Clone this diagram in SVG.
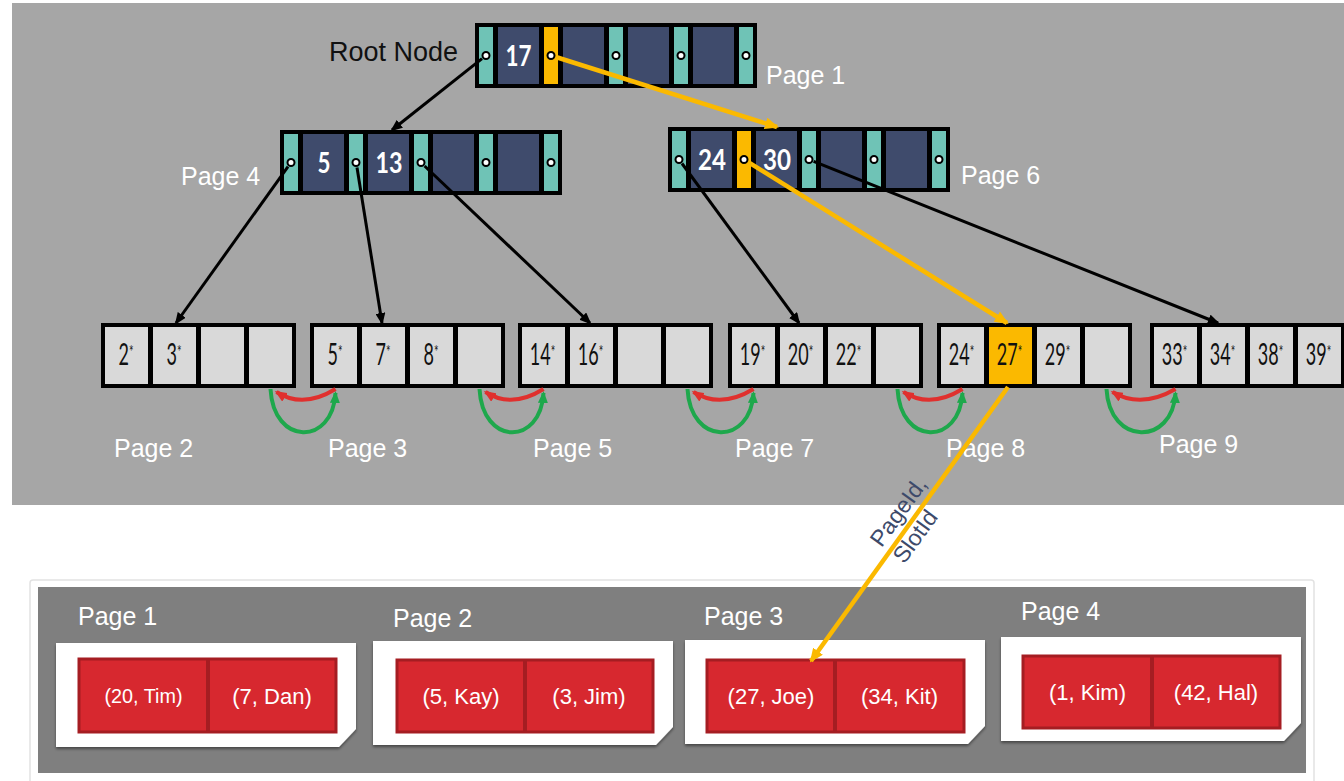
<svg xmlns="http://www.w3.org/2000/svg" width="1344" height="781" viewBox="0 0 1344 781">
  <defs>
    <style>
      .frame { fill: #000; }
      .ptr { fill: #6fc3b6; }
      .key { fill: #3f4b6c; }
      .sel { fill: #fbb900; }
      .dot { fill: #fff; stroke: #000; stroke-width: 2; }
      .keytxt { font-family: Lato, "Open Sans", "DejaVu Sans", sans-serif; font-weight: bold; font-size: 28px; fill: #fff; text-anchor: middle; }
      .cell { fill: #d9d9d9; }
      .leaftxt { font-family: Lato, "Open Sans", "DejaVu Sans", sans-serif; font-size: 30px; fill: #111; text-anchor: middle; }
      .star { font-size: 18px; }
      .lbl { font-family: "Liberation Sans", Arial, sans-serif; font-size: 25px; fill: #fff; }
      .rootlbl { font-family: "Liberation Sans", Arial, sans-serif; font-size: 27px; fill: #111; }
      .conn { fill: none; stroke: #000; stroke-width: 3; marker-end: url(#ah-black); }
      .yconn { fill: none; stroke: #fbb900; stroke-width: 4.5; marker-end: url(#ah-yellow); }
      .prev { fill: none; stroke: #e0302e; stroke-width: 4; marker-end: url(#ah-red); }
      .next { fill: none; stroke: #1ea84c; stroke-width: 4; marker-end: url(#ah-green); }
      .card { fill: #fff; filter: url(#shadow); }
      .rec { fill: #d7282f; stroke: #a51d22; stroke-width: 3; }
      .recdiv { stroke: #a51d22; stroke-width: 4; }
      .rectxt { font-family: "Liberation Sans", Arial, sans-serif; font-size: 22px; fill: #fff; text-anchor: middle; }
      .rid { font-family: "Liberation Sans", Arial, sans-serif; font-size: 23px; fill: #3d4a6a; }
    </style>
    <marker id="ah-black" viewBox="0 0 12 10" refX="10" refY="5" markerWidth="12" markerHeight="10" markerUnits="userSpaceOnUse" orient="auto">
      <path d="M0,0 L12,5 L0,10 z" fill="#000"/>
    </marker>
    <marker id="ah-yellow" viewBox="0 0 14 12" refX="12" refY="6" markerWidth="14" markerHeight="12" markerUnits="userSpaceOnUse" orient="auto">
      <path d="M0,0 L14,6 L0,12 z" fill="#fbb900"/>
    </marker>
    <marker id="ah-red" viewBox="0 0 12 10" refX="10" refY="5" markerWidth="12" markerHeight="10" markerUnits="userSpaceOnUse" orient="auto">
      <path d="M0,0 L12,5 L0,10 z" fill="#e0302e"/>
    </marker>
    <marker id="ah-green" viewBox="0 0 12 10" refX="10" refY="5" markerWidth="12" markerHeight="10" markerUnits="userSpaceOnUse" orient="auto">
      <path d="M0,0 L12,5 L0,10 z" fill="#1ea84c"/>
    </marker>
    <filter id="shadow" x="-5%" y="-10%" width="110%" height="130%">
      <feDropShadow dx="0" dy="2" stdDeviation="1.5" flood-color="#000" flood-opacity="0.45"/>
    </filter>
  </defs>

  <rect x="0" y="0" width="1344" height="781" fill="#fff"/>
  <!-- index area -->
  <rect x="12" y="3" width="1332" height="502" fill="#a6a6a6"/>

  <!-- inner nodes -->
  <g id="node-page1">
    <rect class="frame" x="475" y="23" width="282" height="65"/>
    <rect class="ptr" x="479" y="27" width="14" height="57"/>
    <rect class="key" x="498" y="27" width="41" height="57"/>
    <rect class="sel" x="544" y="27" width="14" height="57"/>
    <rect class="key" x="563" y="27" width="41" height="57"/>
    <rect class="ptr" x="609" y="27" width="14" height="57"/>
    <rect class="key" x="628" y="27" width="41" height="57"/>
    <rect class="ptr" x="674" y="27" width="14" height="57"/>
    <rect class="key" x="693" y="27" width="41" height="57"/>
    <rect class="ptr" x="739" y="27" width="14" height="57"/>
    <circle class="dot" cx="486" cy="55.5" r="3.5"/>
    <circle class="dot" cx="551" cy="55.5" r="3.5"/>
    <circle class="dot" cx="616" cy="55.5" r="3.5"/>
    <circle class="dot" cx="681" cy="55.5" r="3.5"/>
    <circle class="dot" cx="746" cy="55.5" r="3.5"/>
    <text class="keytxt" x="518.5" y="66" textLength="26" lengthAdjust="spacingAndGlyphs">17</text>
    <text class="rootlbl" x="329" y="61">Root Node</text>
    <text class="lbl" x="766" y="84">Page 1</text>
  </g>

  <g id="node-page4">
    <rect class="frame" x="280" y="130" width="282" height="65"/>
    <rect class="ptr" x="284" y="134" width="14" height="57"/>
    <rect class="key" x="303" y="134" width="41" height="57"/>
    <rect class="ptr" x="349" y="134" width="14" height="57"/>
    <rect class="key" x="368" y="134" width="41" height="57"/>
    <rect class="ptr" x="414" y="134" width="14" height="57"/>
    <rect class="key" x="433" y="134" width="41" height="57"/>
    <rect class="ptr" x="479" y="134" width="14" height="57"/>
    <rect class="key" x="498" y="134" width="41" height="57"/>
    <rect class="ptr" x="544" y="134" width="14" height="57"/>
    <circle class="dot" cx="291" cy="162.5" r="3.5"/>
    <circle class="dot" cx="356" cy="162.5" r="3.5"/>
    <circle class="dot" cx="421" cy="162.5" r="3.5"/>
    <circle class="dot" cx="486" cy="162.5" r="3.5"/>
    <circle class="dot" cx="551" cy="162.5" r="3.5"/>
    <text class="keytxt" x="324" y="173" textLength="13" lengthAdjust="spacingAndGlyphs">5</text>
    <text class="keytxt" x="389" y="173" textLength="27" lengthAdjust="spacingAndGlyphs">13</text>
    <text class="lbl" x="181" y="185">Page 4</text>
  </g>

  <g id="node-page6">
    <rect class="frame" x="668" y="127" width="282" height="65"/>
    <rect class="ptr" x="672" y="131" width="14" height="57"/>
    <rect class="key" x="691" y="131" width="41" height="57"/>
    <rect class="sel" x="737" y="131" width="14" height="57"/>
    <rect class="key" x="756" y="131" width="41" height="57"/>
    <rect class="ptr" x="802" y="131" width="14" height="57"/>
    <rect class="key" x="821" y="131" width="41" height="57"/>
    <rect class="ptr" x="867" y="131" width="14" height="57"/>
    <rect class="key" x="886" y="131" width="41" height="57"/>
    <rect class="ptr" x="932" y="131" width="14" height="57"/>
    <circle class="dot" cx="679" cy="159.5" r="3.5"/>
    <circle class="dot" cx="744" cy="159.5" r="3.5"/>
    <circle class="dot" cx="809" cy="159.5" r="3.5"/>
    <circle class="dot" cx="874" cy="159.5" r="3.5"/>
    <circle class="dot" cx="939" cy="159.5" r="3.5"/>
    <text class="keytxt" x="712" y="170" textLength="28" lengthAdjust="spacingAndGlyphs">24</text>
    <text class="keytxt" x="777" y="170" textLength="28" lengthAdjust="spacingAndGlyphs">30</text>
    <text class="lbl" x="961" y="184">Page 6</text>
  </g>

  <!-- leaf pages (entries drawn in a narrowed face) -->
  <g id="leaf-page2">
    <rect class="frame" x="101" y="323" width="195" height="65"/>
    <rect class="cell" x="105" y="327" width="43" height="57"/>
    <rect class="cell" x="153" y="327" width="43" height="57"/>
    <rect class="cell" x="201" y="327" width="43" height="57"/>
    <rect class="cell" x="249" y="327" width="43" height="57"/>
    <text class="leaftxt" transform="translate(126,365) scale(0.6,1)">2<tspan class="star" dy="-7">*</tspan></text>
    <text class="leaftxt" transform="translate(174,365) scale(0.6,1)">3<tspan class="star" dy="-7">*</tspan></text>
    <text class="lbl" x="114" y="457">Page 2</text>
  </g>

  <g id="leaf-page3">
    <rect class="frame" x="310" y="323" width="195" height="65"/>
    <rect class="cell" x="314" y="327" width="43" height="57"/>
    <rect class="cell" x="362" y="327" width="43" height="57"/>
    <rect class="cell" x="410" y="327" width="43" height="57"/>
    <rect class="cell" x="458" y="327" width="43" height="57"/>
    <text class="leaftxt" transform="translate(335,365) scale(0.6,1)">5<tspan class="star" dy="-7">*</tspan></text>
    <text class="leaftxt" transform="translate(383,365) scale(0.6,1)">7<tspan class="star" dy="-7">*</tspan></text>
    <text class="leaftxt" transform="translate(431,365) scale(0.6,1)">8<tspan class="star" dy="-7">*</tspan></text>
    <text class="lbl" x="328" y="457">Page 3</text>
  </g>

  <g id="leaf-page5">
    <rect class="frame" x="518" y="323" width="195" height="65"/>
    <rect class="cell" x="522" y="327" width="43" height="57"/>
    <rect class="cell" x="570" y="327" width="43" height="57"/>
    <rect class="cell" x="618" y="327" width="43" height="57"/>
    <rect class="cell" x="666" y="327" width="43" height="57"/>
    <text class="leaftxt" transform="translate(542.5,365) scale(0.6,1)">14<tspan class="star" dy="-7">*</tspan></text>
    <text class="leaftxt" transform="translate(590.5,365) scale(0.6,1)">16<tspan class="star" dy="-7">*</tspan></text>
    <text class="lbl" x="533" y="457">Page 5</text>
  </g>

  <g id="leaf-page7">
    <rect class="frame" x="728" y="323" width="195" height="65"/>
    <rect class="cell" x="732" y="327" width="43" height="57"/>
    <rect class="cell" x="780" y="327" width="43" height="57"/>
    <rect class="cell" x="828" y="327" width="43" height="57"/>
    <rect class="cell" x="876" y="327" width="43" height="57"/>
    <text class="leaftxt" transform="translate(752.5,365) scale(0.6,1)">19<tspan class="star" dy="-7">*</tspan></text>
    <text class="leaftxt" transform="translate(800.5,365) scale(0.6,1)">20<tspan class="star" dy="-7">*</tspan></text>
    <text class="leaftxt" transform="translate(848.5,365) scale(0.6,1)">22<tspan class="star" dy="-7">*</tspan></text>
    <text class="lbl" x="735" y="457">Page 7</text>
  </g>

  <g id="leaf-page8">
    <rect class="frame" x="937" y="323" width="195" height="65"/>
    <rect class="cell" x="941" y="327" width="43" height="57"/>
    <rect class="sel" x="989" y="327" width="43" height="57"/>
    <rect class="cell" x="1037" y="327" width="43" height="57"/>
    <rect class="cell" x="1085" y="327" width="43" height="57"/>
    <text class="leaftxt" transform="translate(961.5,365) scale(0.6,1)">24<tspan class="star" dy="-7">*</tspan></text>
    <text class="leaftxt" transform="translate(1009.5,365) scale(0.6,1)">27<tspan class="star" dy="-7">*</tspan></text>
    <text class="leaftxt" transform="translate(1057.5,365) scale(0.6,1)">29<tspan class="star" dy="-7">*</tspan></text>
    <text class="lbl" x="946" y="457">Page 8</text>
  </g>

  <g id="leaf-page9">
    <rect class="frame" x="1150" y="323" width="195" height="65"/>
    <rect class="cell" x="1154" y="327" width="43" height="57"/>
    <rect class="cell" x="1202" y="327" width="43" height="57"/>
    <rect class="cell" x="1250" y="327" width="43" height="57"/>
    <rect class="cell" x="1298" y="327" width="43" height="57"/>
    <text class="leaftxt" transform="translate(1174.5,365) scale(0.6,1)">33<tspan class="star" dy="-7">*</tspan></text>
    <text class="leaftxt" transform="translate(1222.5,365) scale(0.6,1)">34<tspan class="star" dy="-7">*</tspan></text>
    <text class="leaftxt" transform="translate(1270.5,365) scale(0.6,1)">38<tspan class="star" dy="-7">*</tspan></text>
    <text class="leaftxt" transform="translate(1318.5,365) scale(0.6,1)">39<tspan class="star" dy="-7">*</tspan></text>
    <text class="lbl" x="1159" y="453">Page 9</text>
  </g>

  <!-- heap file with data pages -->
  <g id="heap-file">
    <rect x="30" y="580" width="1284" height="206" rx="3" fill="#fff" stroke="#e2e2e2" stroke-width="1.5"/>
    <rect x="38" y="587" width="1268" height="186" fill="#7f7f7f"/>
  </g>

  <g id="data-page1">
    <text class="lbl" x="78" y="625">Page 1</text>
    <path class="card" d="M56,643 H356 V729 L339,747 H56 Z"/>
    <rect class="rec" x="79" y="659" width="257" height="73"/>
    <line class="recdiv" x1="208" y1="659" x2="208" y2="732"/>
    <text class="rectxt" x="143.5" y="703" style="font-size:20px" textLength="78" lengthAdjust="spacingAndGlyphs">(20, Tim)</text>
    <text class="rectxt" x="272" y="704">(7, Dan)</text>
  </g>

  <g id="data-page2">
    <text class="lbl" x="393" y="627">Page 2</text>
    <path class="card" d="M373,641 H673 V727 L656,745 H373 Z"/>
    <rect class="rec" x="397" y="660" width="256" height="72"/>
    <line class="recdiv" x1="525" y1="660" x2="525" y2="732"/>
    <text class="rectxt" x="461" y="704">(5, Kay)</text>
    <text class="rectxt" x="589" y="704">(3, Jim)</text>
  </g>

  <g id="data-page3">
    <text class="lbl" x="704" y="625">Page 3</text>
    <path class="card" d="M685,640 H985 V726 L968,744 H685 Z"/>
    <rect class="rec" x="707" y="660" width="257" height="72"/>
    <line class="recdiv" x1="835" y1="660" x2="835" y2="732"/>
    <text class="rectxt" x="771" y="704">(27, Joe)</text>
    <text class="rectxt" x="899.5" y="704">(34, Kit)</text>
  </g>

  <g id="data-page4">
    <text class="lbl" x="1021" y="620">Page 4</text>
    <path class="card" d="M1001,637 H1301 V723 L1284,741 H1001 Z"/>
    <rect class="rec" x="1023" y="656" width="257" height="72"/>
    <line class="recdiv" x1="1152" y1="656" x2="1152" y2="728"/>
    <text class="rectxt" x="1087.5" y="700">(1, Kim)</text>
    <text class="rectxt" x="1216" y="700">(42, Hal)</text>
  </g>

  <!-- connectors -->
  <g id="connectors">
    <line class="conn" x1="482" y1="58.6" x2="392" y2="130"/>
    <line class="conn" x1="288" y1="166.6" x2="176" y2="323"/>
    <line class="conn" x1="357" y1="167.4" x2="382" y2="323"/>
    <line class="conn" x1="424.6" y1="166" x2="590" y2="323"/>
    <line class="conn" x1="682" y1="163.5" x2="799" y2="323"/>
    <line class="conn" x1="813.6" y1="161.4" x2="1218" y2="323"/>

    <line class="yconn" x1="555.8" y1="57" x2="777" y2="127"/>
    <line class="yconn" x1="748.2" y1="162.1" x2="1007" y2="323"/>
    <line class="yconn" x1="1008" y1="387" x2="811" y2="661"/>

    <!-- sibling links between leaf pages -->
    <path class="next" d="M270.5,389 C273.5,446 332.5,446 335.5,393"/>
    <path class="prev" d="M335.5,389 Q303,409 276.5,392"/>
    <path class="next" d="M479.5,389 C482.5,446 540.5,446 543.5,393"/>
    <path class="prev" d="M543.5,389 Q511.5,409 485.5,392"/>
    <path class="next" d="M687.5,389 C690.5,446 750.5,446 753.5,393"/>
    <path class="prev" d="M753.5,389 Q720.5,409 693.5,392"/>
    <path class="next" d="M897.5,389 C900.5,446 959.5,446 962.5,393"/>
    <path class="prev" d="M962.5,389 Q930,409 903.5,392"/>
    <path class="next" d="M1106.5,389 C1109.5,446 1172.5,446 1175.5,393"/>
    <path class="prev" d="M1175.5,389 Q1141,409 1112.5,392"/>

    <g transform="translate(905,516) rotate(-54)">
      <text class="rid" x="-40" y="0">PageId,</text>
      <text class="rid" x="-40" y="28">SlotId</text>
    </g>
  </g>
</svg>
